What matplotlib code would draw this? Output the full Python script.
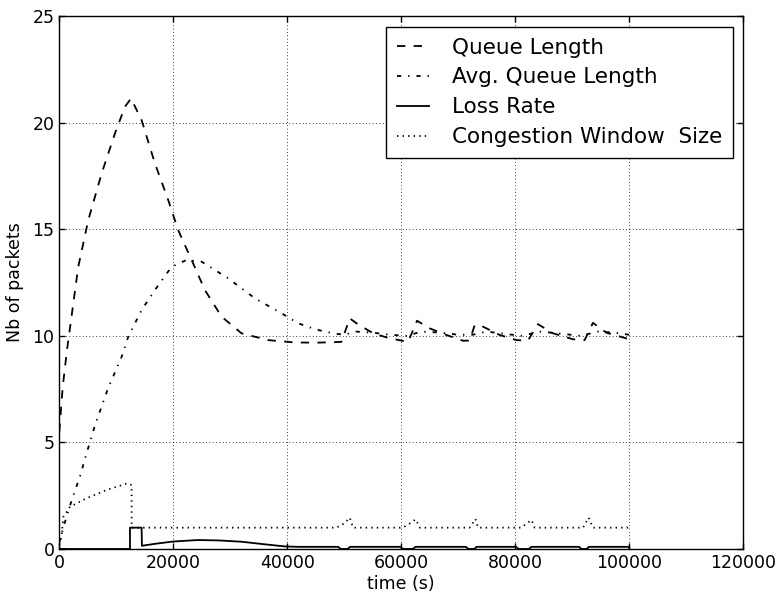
import matplotlib
matplotlib.use("Agg")
import matplotlib.pyplot as plt

# ---------------- data ----------------
queue_t = [0, 600, 1350, 3330, 5085, 7430, 9770, 11520, 12590, 14440, 16780, 19110,
           20860, 23210, 25540, 28470, 31970, 36640, 41320, 45000, 48000, 49500,
           50960, 52140, 55050, 57980, 61190, 62760, 64990, 67920, 70830, 72000,
           72880, 74340, 77260, 80190, 82220, 83970, 86600, 90110, 92160, 93620,
           95970, 99470, 100000]
queue_len = [5.5, 7.6, 9.33, 13.24, 15.43, 17.62, 19.5, 20.75, 21.14, 20.12, 18.09, 16.37,
             14.96, 13.56, 12.15, 10.9, 10.12, 9.8, 9.69, 9.68, 9.7, 9.72,
             10.82, 10.59, 10.12, 9.88, 9.72, 10.71, 10.35, 10.04, 9.77, 9.78,
             10.51, 10.43, 10.04, 9.8, 9.78, 10.55, 10.12, 9.84, 9.8, 10.61,
             10.15, 9.88, 9.86]

avg_t = [0, 700, 1600, 2450, 3630, 4800, 6260, 8500, 10940, 12100, 14440, 16780,
         19700, 22330, 24960, 29630, 34310, 38990, 41900, 45000, 48000, 50000,
         52000, 55000, 58000, 61000, 63500, 67000, 70000, 72500, 75000, 78000,
         81000, 84500, 88000, 91500, 94500, 97500, 100000]
avg_queue = [0.3, 1.0, 1.8, 2.5, 3.4, 4.5, 5.8, 7.5, 9.02, 9.96, 11.21, 12.15,
             13.24, 13.56, 13.48, 12.7, 11.76, 11.06, 10.59, 10.3, 10.12, 10.05,
             10.2, 10.15, 10.05, 10.0, 10.2, 10.15, 10.05, 10.05, 10.2, 10.1,
             10.0, 10.2, 10.1, 10.0, 10.2, 10.15, 10.05]

loss_t = [0, 12400, 12400, 14440, 14500, 17000, 20000, 24370, 28000, 31970, 36000,
          39570, 42000, 48900, 49400, 50600, 51000, 59800, 60300, 62000, 62500,
          71300, 71800, 72800, 73200, 80100, 80600, 82400, 82800, 91200, 91600,
          92500, 92900, 100000, 100000]
loss_rate = [0, 0, 1.0, 1.0, 0.15, 0.25, 0.35, 0.42, 0.4, 0.34, 0.22,
             0.12, 0.1, 0.1, 0.0, 0.0, 0.1, 0.1, 0.0, 0.0, 0.1,
             0.1, 0.0, 0.0, 0.1, 0.1, 0.0, 0.0, 0.1, 0.1, 0.0,
             0.0, 0.1, 0.1, 0.0]

cwnd_t = [0, 400, 700, 1880, 4800, 8310, 11930, 12690, 12700, 48630, 50000, 50960,
          51540, 60250, 61500, 62530, 63240, 72000, 73000, 73460, 81060, 82000,
          82820, 83400, 91870, 92860, 93620, 100000]
cwnd = [0.2, 0.6, 1.5, 1.98, 2.38, 2.77, 3.08, 3.0, 1.0, 1.0, 1.2, 1.47,
        1.0, 1.0, 1.2, 1.39, 1.0, 1.0, 1.41, 1.0, 1.0, 1.2,
        1.36, 1.0, 1.0, 1.47, 1.0, 1.0]

labels = ["Queue Length", "Avg. Queue Length", "Loss Rate", "Congestion Window  Size"]
x_ticks = [0, 20000, 40000, 60000, 80000, 100000, 120000]
y_ticks = [0, 5, 10, 15, 20, 25]

# ---------------- plot ----------------
plt.rcParams['font.family'] = ['DejaVu Sans']
fig = plt.figure(figsize=(7.8, 5.96), dpi=100)
ax = fig.add_axes([0.076, 0.0789, 0.877, 0.894])

lw = 1.3
k = 1.0 / lw  # keep dash lengths in absolute points
ax.plot(queue_t, queue_len, color='k', lw=lw, linestyle=(0, (6 * k, 6 * k)), label=labels[0])
ax.plot(avg_t, avg_queue, color='k', lw=lw, linestyle=(0, (3 * k, 5 * k, 1 * k, 5 * k)), label=labels[1])
ax.plot(loss_t, loss_rate, color='k', lw=lw, linestyle='-', label=labels[2])
ax.plot(cwnd_t, cwnd, color='k', lw=lw, linestyle=(0, (1 * k, 3 * k)), label=labels[3])

ax.set_xlim(0, 120000)
ax.set_ylim(0, 25)
ax.set_xticks(x_ticks)
ax.set_yticks(y_ticks)
ax.tick_params(direction='in', top=True, right=True, length=4, width=1, labelsize=12.5)
ax.grid(True, color='k', linestyle=(0, (1, 3)), linewidth=0.6)
for s in ax.spines.values():
    s.set_linewidth(1.0)

ax.set_xlabel("time (s)", fontsize=12.5, labelpad=2)
ax.set_ylabel("Nb of packets", fontsize=12.5, labelpad=6)

leg = ax.legend(loc='upper right', bbox_to_anchor=(0.985, 0.98), borderaxespad=0,
                fontsize=15.5, fancybox=False, framealpha=1, edgecolor='k',
                handlelength=1.5, handletextpad=1.05, labelspacing=0.46, borderpad=0.5)
leg.get_frame().set_linewidth(1.0)

fig.savefig("out.png", dpi=100)
